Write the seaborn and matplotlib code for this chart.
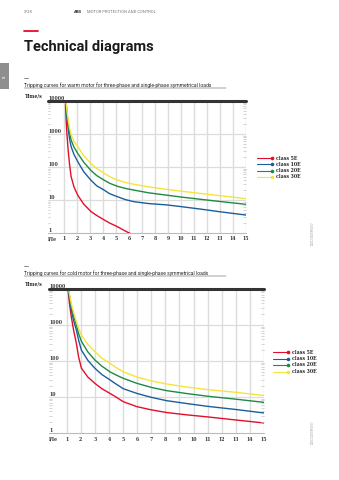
import numpy as np
import pandas as pd
import matplotlib
matplotlib.use("Agg")
import matplotlib.pyplot as plt
from matplotlib.lines import Line2D
from matplotlib.patches import Rectangle
import matplotlib.transforms as mtransforms
import seaborn as sns

sns.set_style("white")
plt.rcParams['font.family'] = ['Roboto', 'DejaVu Sans']

classes = ["class 5E", "class 10E", "class 20E", "class 30E"]
colors = ["#e30e2a", "#1b5e9c", "#1d8a45", "#f5e43c"]

# warm motor curves (x = I/Ie, y = time in s)
warm_x = [1.1, 1.15, 1.2, 1.3, 1.4, 1.53, 1.75, 2.04, 2.5, 3.05, 3.5, 4.07, 4.5,
          5.1, 5.7, 6.36, 7.5, 8.9, 10, 11.5, 13, 15]
warm_5E = [8000, 2500, 1100, 330, 130, 51, 25, 14, 7.5, 4.5, 3.4, 2.5, 2.0,
           1.55, 1.15, 0.85, 0.55, 0.35, 0.28, 0.22, 0.18, 0.14]
warm_10E = [20000, 10000, 3500, 1500, 750, 415, 240, 145, 72, 40, 27, 20, 15.5,
            12.6, 10.3, 8.9, 7.8, 7.1, 6.3, 5.3, 4.4, 3.5]
warm_20E = [14000, 8000, 4500, 2200, 1200, 660, 400, 258, 140, 79, 55, 40, 32,
            26, 22.5, 20, 16.5, 14, 12.3, 10.5, 9, 7.4]
warm_30E = [12000, 9000, 5500, 2800, 1600, 940, 600, 415, 220, 129, 90, 65, 51,
            40, 34, 30, 25, 21, 18.5, 15.8, 13.5, 11]

# cold motor curves
cold_x = [1.1, 1.2, 1.33, 1.5, 1.69, 1.85, 2.05, 2.5, 3.0, 3.5, 4.07, 4.5, 5.02,
          5.98, 7.0, 8.1, 9.5, 11, 13, 15]
cold_5E = [10000, 4000, 1700, 700, 310, 130, 63, 36, 24, 17, 12.6, 10, 7.4,
           5.4, 4.4, 3.7, 3.2, 2.8, 2.3, 1.9]
cold_10E = [11000, 5500, 2600, 1300, 730, 380, 200, 105, 63, 42, 30, 23, 17,
            12.6, 9.8, 7.9, 6.6, 5.5, 4.5, 3.6]
cold_20E = [12000, 6500, 3300, 1800, 1000, 580, 350, 180, 107, 72, 50, 41, 33,
            24, 18.5, 15, 12.5, 10.5, 8.7, 7.1]
cold_30E = [13000, 7500, 3900, 2200, 1240, 800, 525, 290, 182, 120, 87, 66, 50,
            36, 28, 23, 19, 16, 13.5, 11]

x_ticks = list(range(1, 16))
y_decades = [1, 10, 100, 1000, 10000]

W, H = 339, 480
fig = plt.figure(figsize=(W / 100, H / 100), dpi=100)

def fx(px):
    return px / W

def fy(py):
    return 1 - py / H

def frame(x, vals_list):
    rows = []
    for c, v in zip(classes, vals_list):
        for xi, yi in zip(x, v):
            rows.append({"I/Ie": xi, "t": yi, "cls": c})
    return pd.DataFrame(rows)

def make_chart(left, right, top, bottom, df, leg_x, leg_y0, leg_dy):
    ax = fig.add_axes([fx(left), fy(bottom), fx(right - left), (bottom - top) / H])
    ax.set_yscale("log")
    ax.set_xlim(-0.25, 15)
    ax.set_ylim(1, 10000)
    for xv in x_ticks:
        ax.axvline(xv, color="#dcdcdc", lw=1.0, zorder=0)
    for yv in [10, 100, 1000]:
        ax.axhline(yv, color="#dcdcdc", lw=0.9, zorder=0)
    ax.axhline(10000, color="#333333", lw=2.2, zorder=3, clip_on=False)
    ax.axhline(1, color="#bbbbbb", lw=0.8, zorder=0, clip_on=False)
    sns.lineplot(data=df, x="I/Ie", y="t", hue="cls", palette=colors,
                 hue_order=classes, sort=False, legend=False, ax=ax, lw=1.0,
                 zorder=2)
    for s in ax.spines.values():
        s.set_visible(False)
    ax.set_xticks([])
    ax.set_yticks([])
    ax.set_xlabel("")
    ax.set_ylabel("")
    trans_l = mtransforms.blended_transform_factory(ax.transAxes, ax.transData)
    for d in [1, 10, 100, 1000]:
        for m in range(2, 10):
            yv = d * m
            ax.plot([0, 0.012], [yv, yv], color="#c8c8c8", lw=0.5,
                    transform=trans_l, clip_on=False)
            ax.plot([0.985, 1.0], [yv, yv], color="#c8c8c8", lw=0.5,
                    transform=trans_l, clip_on=False)
    for yv in y_decades:
        ax.text(0.0, yv, str(yv), transform=trans_l, ha="left", va="bottom",
                fontsize=3.3, fontweight="bold", color="#333333",
                fontfamily="DejaVu Serif")
    trans_b = mtransforms.blended_transform_factory(ax.transData, ax.transAxes)
    for xv in x_ticks:
        ax.text(xv, -0.045, str(xv), transform=trans_b, ha="center", va="center",
                fontsize=3.3, fontweight="bold", color="#333333",
                fontfamily="DejaVu Serif")
    ax.text(0.0, -0.045, "I/Ie", transform=ax.transAxes, ha="left", va="center",
            fontsize=3.3, fontweight="bold", color="#333333",
            fontfamily="DejaVu Serif")
    ax.text(fx(25), fy(top - 5), "Time/s", transform=fig.transFigure,
            ha="left", va="center", fontsize=3.3, fontweight="bold",
            color="#222222", fontfamily="DejaVu Serif")
    for i, (c, col) in enumerate(zip(classes, colors)):
        yy = leg_y0 + i * leg_dy
        fig.add_artist(Line2D([fx(leg_x), fx(leg_x + 15)], [fy(yy), fy(yy)],
                              color=col, lw=0.8))
        fig.add_artist(Line2D([fx(leg_x + 15)], [fy(yy)], color=col, marker="o",
                              markersize=1.6, lw=0))
        fig.text(fx(leg_x + 19), fy(yy), c, ha="left", va="center",
                 fontsize=3.3, fontweight="bold", color="#222222",
                 fontfamily="DejaVu Serif")
    return ax

# header
fig.text(fx(24), fy(12), "3/28", fontsize=3, color="#777777", ha="left", va="center")
fig.text(fx(74), fy(12), "ABB", fontsize=3, color="#333333", fontweight="bold",
         ha="left", va="center")
fig.text(fx(87), fy(12), "MOTOR PROTECTION AND CONTROL", fontsize=3,
         color="#777777", ha="left", va="center")
fig.add_artist(Line2D([fx(24), fx(38)], [fy(30.5), fy(30.5)], color="#e30e2a", lw=1.3))
fig.text(fx(24), fy(47), "Technical diagrams", fontsize=10.5, fontweight="bold",
         color="#1a1a1a", ha="left", va="center")
fig.add_artist(Rectangle((0, fy(89)), fx(9), (89 - 63) / H, color="#8e8e8e",
                         transform=fig.transFigure, lw=0))
fig.text(fx(4.5), fy(76), "18", fontsize=2.2, color="white", rotation=90,
         ha="center", va="center")

for ty, title in [(85, "Tripping curves for warm motor for three-phase and single-phase symmetrical loads"),
                  (273, "Tripping curves for cold motor for three-phase and single-phase symmetrical loads")]:
    fig.add_artist(Line2D([fx(24), fx(28)], [fy(ty - 7), fy(ty - 7)], color="#555555", lw=0.5))
    fig.text(fx(24), fy(ty), title, fontsize=3.6, color="#222222", ha="left", va="center")
    fig.add_artist(Line2D([fx(24), fx(226)], [fy(ty + 3), fy(ty + 3)], color="#444444", lw=0.35))

df_warm = frame(warm_x, [warm_5E, warm_10E, warm_20E, warm_30E])
df_cold = frame(cold_x, [cold_5E, cold_10E, cold_20E, cold_30E])

make_chart(48, 246, 101, 233, df_warm, 257, 158, 6.3)
make_chart(49, 264, 289, 433, df_cold, 273, 352, 6.5)

for yc in [(222, 244), (422, 443)]:
    fig.text(fx(313), fy((yc[0] + yc[1]) / 2), "2CDC132018F0017", fontsize=2,
             color="#999999", rotation=90, ha="center", va="center")

fig.savefig("out.png", dpi=100)
